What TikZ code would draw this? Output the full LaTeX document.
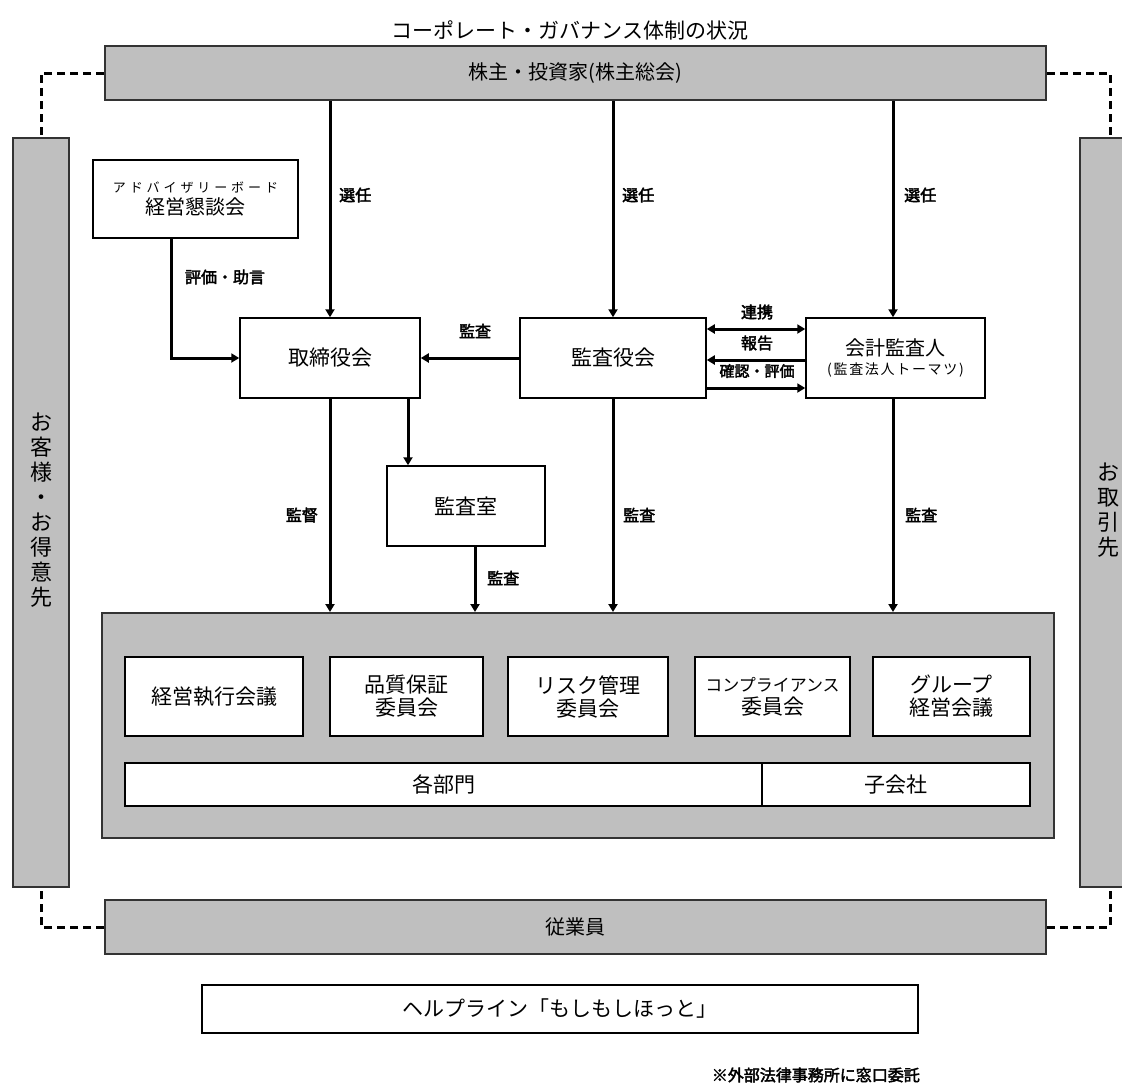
\documentclass[tikz,border=0pt]{standalone}
\usepackage{fontspec}
\setmainfont{Noto Sans CJK JP}
\newfontfamily\lblfont[FakeBold=2.5]{Noto Sans CJK JP}
\usetikzlibrary{arrows.meta}
\begin{document}
\begin{tikzpicture}[x=1pt,y=-1pt,
  graybar/.style={draw=black!80,line width=2pt,fill=black!25,inner sep=0pt,align=center},
  wbox/.style={draw=black,line width=1.5pt,fill=white,inner sep=0pt,align=center},
  arr/.style={line width=3pt,-{Triangle[length=8pt,width=9pt]}},
  dblarr/.style={line width=3pt,{Triangle[length=8pt,width=9pt]}-{Triangle[length=8pt,width=9pt]}},
  dashconn/.style={line width=3pt,dash pattern=on 8pt off 5pt},
  lbl/.style={font=\lblfont\fontsize{16}{18}\selectfont,inner sep=0pt},
  big/.style={font=\fontsize{21}{25}\selectfont},
  vtext/.style={font=\fontsize{22}{25}\selectfont,align=center,inner sep=0pt}
]
\useasboundingbox (0,0) rectangle (1122,1088);

% title
\node[font=\fontsize{21}{24}\selectfont] (title) at (570,30) {コーポレート・ガバナンス体制の状況};

% top and bottom bars
\node[graybar,minimum width=941pt,minimum height=54pt,font=\fontsize{20}{24}\selectfont] (sh) at (575.5,73) {株主・投資家(株主総会)};
\node[graybar,minimum width=941pt,minimum height=54pt,font=\fontsize{20}{24}\selectfont] (emp) at (575.5,927) {従業員};

% side bars
\node[graybar,minimum width=56pt,minimum height=749pt] (cl) at (41,512.5) {};
\node[vtext] (cltext) at (41,510) {お\\客\\様\\・\\お\\得\\意\\先};
\node[graybar,minimum width=60pt,minimum height=749pt] (cr) at (1110,512.5) {};
\node[vtext] (crtext) at (1108,510) {お\\取\\引\\先};

% dashed connectors
\draw[dashconn] (sh.west) -| (cl.north);
\draw[dashconn] (sh.east) -| (cr.north);
\draw[dashconn] (emp.west) -| (cl.south);
\draw[dashconn] (emp.east) -| (cr.south);

% advisory board
\node[wbox,minimum width=205pt,minimum height=78pt] (adv) at (195.5,199)
  {{\fontsize{13}{15}\selectfont\addfontfeature{LetterSpace=30}アドバイザリーボード}\\[3pt]
   {\fontsize{20}{22}\selectfont 経営懇談会}};

% main boxes
\node[wbox,big,minimum width=180pt,minimum height=80pt] (tb) at (330,358) {取締役会};
\node[wbox,big,minimum width=186pt,minimum height=80pt] (kc) at (613,358) {監査役会};
\node[wbox,minimum width=179pt,minimum height=80pt] (ka) at (895.5,358)
  {{\fontsize{20}{22}\selectfont 会計監査人}\\[4pt]
   {\fontsize{14}{16}\selectfont\addfontfeature{LetterSpace=12}(監査法人トーマツ)}};
\node[wbox,big,minimum width=158pt,minimum height=80pt] (ks) at (466,506) {監査室};

% big gray box
\node[graybar,minimum width=952pt,minimum height=225pt] (org) at (578,725.5) {};
\node[wbox,big,minimum width=178pt,minimum height=79pt] (b1) at (214,696.5) {経営執行会議};
\node[wbox,big,minimum width=153pt,minimum height=79pt,font=\fontsize{21}{23}\selectfont] (b2) at (406.5,696.5) {品質保証\\委員会};
\node[wbox,big,minimum width=160pt,minimum height=79pt,font=\fontsize{21}{23}\selectfont] (b3) at (588,696.5) {リスク管理\\委員会};
\node[wbox,big,minimum width=155pt,minimum height=79pt,font=\fontsize{21}{23}\selectfont] (b4) at (772.5,696.5) {{\fontsize{17}{20}\selectfont コンプライアンス}\\委員会};
\node[wbox,big,minimum width=157pt,minimum height=79pt,font=\fontsize{21}{23}\selectfont] (b5) at (951.5,696.5) {グループ\\経営会議};
\node[wbox,big,minimum width=637pt,minimum height=43pt] (dept) at (443.5,784.5) {各部門};
\node[wbox,big,minimum width=268pt,minimum height=43pt] (sub) at (896,784.5) {子会社};

% helpline
\node[wbox,big,minimum width=716pt,minimum height=48pt] (help) at (560,1009) {ヘルプライン「もしもしほっと」};
\node[lbl,anchor=east] (note) at (920,1075) {※外部法律事務所に窓口委託};

% election arrows
\draw[arr] (tb.north |- sh.south) -- (tb.north);
\draw[arr] (kc.north |- sh.south) -- (kc.north);
\draw[arr] ([xshift=-2.5pt]ka.north |- sh.south) -- ([xshift=-2.5pt]ka.north);
\node[lbl,anchor=west] (l1) at (339,195) {選任};
\node[lbl,anchor=west] (l2) at (622,195) {選任};
\node[lbl,anchor=west] (l3) at (904,195) {選任};

% advisory to board
\draw[arr] ([xshift=-24.5pt]adv.south) |- (tb.west);
\node[lbl] (l4) at (225,277) {評価・助言};

% audit board to board
\draw[arr] (kc.west) -- (tb.east);
\node[lbl] (l5) at (475,331) {監査};

% audit board <-> accounting auditor
\draw[dblarr] ([yshift=29pt]kc.east) -- ([yshift=29pt]ka.west);
\draw[arr] ([yshift=-2pt]ka.west) -- ([yshift=-2pt]kc.east);
\draw[arr] ([yshift=-30pt]kc.east) -- ([yshift=-30pt]ka.west);
\node[lbl] (l6) at (757,312) {連携};
\node[lbl] (l7) at (757,343) {報告};
\node[lbl,font=\lblfont\fontsize{15}{17}\selectfont] (l8) at (757,371) {確認・評価};

% downward arrows
\draw[arr] (tb.south) -- (tb.south |- org.north);
\node[lbl,anchor=east] (l9) at (318,515) {監督};
\draw[arr] ([xshift=78pt]tb.south) -- ([xshift=78pt]tb.south |- ks.north);
\draw[arr] ([xshift=9pt]ks.south) -- ([xshift=9pt]ks.south |- org.north);
\node[lbl,anchor=west] (l10) at (487,578) {監査};
\draw[arr] (kc.south) -- (kc.south |- org.north);
\node[lbl,anchor=west] (l11) at (623,515) {監査};
\draw[arr] ([xshift=-2.5pt]ka.south) -- ([xshift=-2.5pt]ka.south |- org.north);
\node[lbl,anchor=west] (l12) at (905,515) {監査};
\end{tikzpicture}
\end{document}
